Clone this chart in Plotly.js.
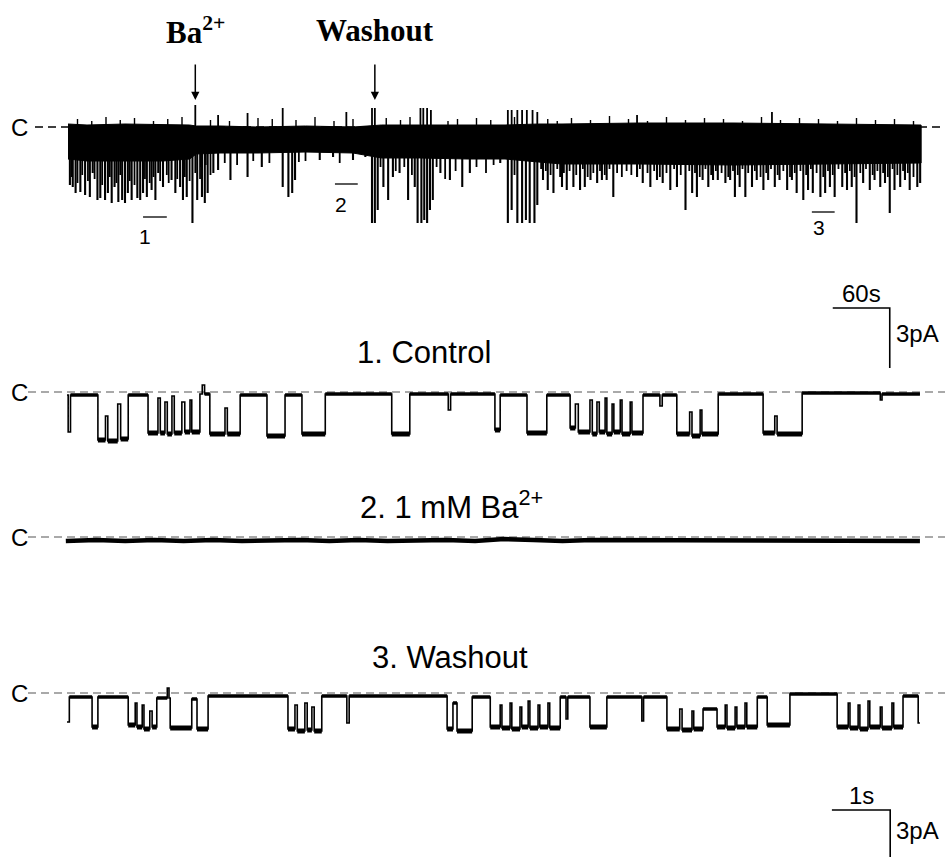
<!DOCTYPE html>
<html><head><meta charset="utf-8">
<script src="https://cdn.plot.ly/plotly-3.0.1.min.js"></script>
<style>html,body{margin:0;padding:0;background:#fff}#chart{width:947px;height:857px}</style>
</head><body><div id="chart"></div>
<script>
// ===== Overview recording (time s, current pA) =====
const bandT      = [0, 20, 60, 100, 128, 135, 160, 200, 250, 300, 318, 330, 370, 420, 460, 495, 520, 600, 700, 800, 898];
const bandTop    = [0.15, 0.1, 0.15, 0.1, 0.1, 0.05, 0.05, 0, 0.05, 0, 0.05, 0.1, 0.1, 0.1, 0.1, 0.15, 0.15, 0.2, 0.2, 0.15, 0.1];
const bandBottom = [-1.6, -1.7, -1.7, -1.7, -1.6, -1.35, -1.3, -1.3, -1.25, -1.3, -1.45, -1.55, -1.55, -1.6, -1.6, -1.75, -1.85, -1.85, -1.9, -1.85, -1.8];

// full-depth openings
const downSpikeT = [2,5,8,13,18,23,26,31,34,39,42,46,49,53,57,60,63,67,73,76,79,83,88,92,95,100,109,113,118,121,125,131,136,141,144,147,153,
  158,171,189,204,226,232,236,239,265,279,300,313,
  320,323,326,332,337,342,349,358,365,368,372,375,378,381,384,392,402,415,423,455,463,467,473,478,482,486,491,494,
  500,505,511,520,525,532,539,544,550,557,562,567,574,599,605,613,620,626,634,641,650,657,662,668,674,679,684,692,697,702,707,713,720,725,732,737,744,749,757,762,767,774,779,784,792,797,802,807,815,820,825,830,837,844,849,855,860,865,870,876,881,886,894,897];
const downSpikeI = [-2.9,-3.0,-3.3,-3.25,-3.4,-3.5,-2.3,-3.65,-3.55,-3.65,-3.3,-3.8,-3.0,-3.75,-3.65,-3.8,-3.3,-3.65,-3.55,-3.65,-3.3,-3.5,-3.15,-3.65,-2.3,-3.0,-2.65,-3.3,-3.0,-3.65,-3.5,-4.8,-3.65,-3.5,-3.8,-3.3,-2.3,
  -2.15,-2.65,-2.5,-2.0,-3.0,-3.5,-3.3,-2.65,-1.65,-1.5,-1.65,-1.5,
  -4.8,-4.8,-4.15,-3.0,-3.65,-2.5,-2.3,-3.65,-3.0,-4.8,-4.8,-4.65,-4.8,-4.15,-3.65,-2.3,-2.65,-3.0,-2.3,-1.8,-4.8,-4.15,-4.8,-4.8,-4.65,-4.8,-4.8,-3.9,
  -2.65,-3.15,-3.3,-3.0,-3.15,-3.0,-3.15,-3.0,-2.65,-2.8,-2.65,-2.65,-3.5,-2.5,-2.8,-3.0,-2.65,-2.8,-3.15,-3.0,-4.15,-3.3,-3.5,-2.65,-3.0,-2.65,-2.65,-2.8,-2.65,-3.5,-3.0,-3.5,-3.0,-2.65,-3.15,-2.65,-3.0,-2.65,-3.15,-2.65,-3.3,-3.65,-3.15,-3.3,-3.5,-3.3,-3.0,-3.5,-3.0,-3.15,-3.0,-4.8,-2.8,-3.15,-2.65,-3.0,-2.8,-4.3,-3.15,-3.0,-2.65,-3.15,-3.0,-2.8];
// shorter openings / partial events
const shortSpikeT = [4,10,15,21,28,36,44,51,55,65,70,81,86,90,97,104,106,115,123,128,134,139,150,
  140,145,165,178,195,212,243,250,286,
  329,345,354,362,388,397,408,430,440,448,470,498,
  503,508,515,518,522,528,535,542,547,553,560,565,570,578,583,588,593,602,610,617,623,630,638,645,654,660,665,671,677,682,688,695,700,705,710,716,723,729,735,740,747,753,760,765,771,777,782,788,795,800,805,811,818,823,828,834,840,847,852,858,863,868,873,879,884,890];
const shortSpikeI = [-2.5,-2.8,-2.4,-2.7,-2.6,-2.9,-2.5,-2.8,-2.4,-2.7,-2.9,-2.6,-2.8,-2.5,-2.7,-2.4,-2.8,-2.6,-2.5,-2.7,-2.3,-2.6,-2.4,
  -2.0,-1.9,-1.8,-1.9,-1.7,-1.8,-1.75,-1.7,-1.8,
  -2.0,-2.2,-2.0,-2.4,-2.0,-2.6,-2.2,-2.0,-2.3,-1.9,-2.4,-2.1,
  -2.2,-2.4,-2.1,-2.5,-2.3,-2.2,-2.4,-2.1,-2.5,-2.3,-2.2,-2.4,-2.1,-2.3,-2.5,-2.2,-2.4,-2.1,-2.3,-2.2,-2.5,-2.3,-2.1,-2.4,-2.2,-2.3,-2.5,-2.1,-2.4,-2.2,-2.3,-2.5,-2.2,-2.4,-2.1,-2.3,-2.2,-2.5,-2.3,-2.1,-2.4,-2.2,-2.5,-2.3,-2.2,-2.4,-2.1,-2.3,-2.5,-2.2,-2.4,-2.1,-2.3,-2.2,-2.5,-2.3,-2.1,-2.4,-2.2,-2.3,-2.5,-2.1,-2.4,-2.2,-2.3,-2.5,-2.2];

const upSpikeT = [134, 158, 189, 226, 293, 320, 323, 371, 374, 378, 382, 463, 467, 473, 478, 483, 489, 494, 599, 741];
const upSpikeI = [1.1, 0.6, 0.7, 0.95, 0.75, 0.95, 0.95, 0.95, 0.95, 0.95, 0.85, 0.85, 0.85, 0.85, 0.85, 0.85, 0.85, 0.75, 0.6, 0.75];
const noiseUpT = [10,25,40,55,70,90,105,120,150,170,200,215,240,260,280,300,335,350,360,400,410,430,445,470,505,515,530,550,570,590,610,630,650,670,690,710,730,750,770,790,810,830,850,870,890];
const noiseUpI = [0.4,0.3,0.5,0.35,0.45,0.3,0.4,0.5,0.35,0.3,0.45,0.4,0.35,0.5,0.3,0.4,0.45,0.35,0.5,0.3,0.4,0.45,0.35,0.5,0.4,0.3,0.45,0.35,0.55,0.4,0.3,0.5,0.35,0.45,0.4,0.3,0.5,0.35,0.45,0.4,0.3,0.45,0.35,0.4,0.3];

// marked segments shown expanded below
const segLabel  = ['1', '2', '3'];
const segStart  = [79, 281, 783];
const segEnd    = [104, 305, 807];
const segBarI   = [-4.5, -2.85, -4.25];
const segTextT  = [81, 287, 790];
const segTextI  = [-5.45, -3.85, -5.0];

const stimT     = [134, 323];
const stimLabel = ['<b>Ba<sup>2+</sup></b>', '<b>Washout</b>'];

// ===== Expanded segments (time s, current pA) =====
const ctrlT = [0,0.02,0.06,0.53,0.66,0.70,0.87,0.92,1.05,1.39,1.56,1.60,1.68,1.72,1.80,1.84,1.97,2.02,2.11,2.14,2.28,2.32,2.36,2.45,2.71,2.75,2.97,3.43,3.74,4.03,4.43,5.57,5.88,6.54,6.58,7.34,7.43,7.89,8.23,8.63,8.72,8.77,8.97,9.01,9.09,9.13,9.23,9.26,9.35,9.38,9.49,9.52,9.66,9.69,9.88,10.17,10.21,10.46,10.68,10.72,10.86,10.89,11.17,11.94,12.14,12.18,12.61,13.95,13.98,14.63];
const ctrlI = [-0.15,-2.0,-0.15,-2.4,-1.2,-2.45,-0.6,-2.35,-0.15,-2.05,-0.3,-2.05,-0.5,-2.1,-0.2,-2.05,-0.5,-2.0,-0.4,-2.0,-0.1,0.35,-0.1,-2.1,-0.8,-2.1,-0.15,-2.2,-0.15,-2.1,-0.1,-2.1,-0.1,-0.9,-0.1,-1.9,-0.15,-2.05,-0.15,-1.8,-0.6,-2.0,-0.4,-2.1,-0.5,-2.0,-0.3,-2.1,-0.6,-2.0,-0.4,-2.1,-0.5,-2.05,-0.15,-0.7,-0.15,-2.1,-1.0,-2.2,-0.9,-2.1,-0.1,-2.05,-1.2,-2.1,-0.05,-0.4,-0.1,-0.1];

const baT = [-0.02,0.5,1.0,1.5,2.0,2.5,3.0,3.5,4.0,4.5,5.0,5.5,6.0,6.5,7.0,7.5,8.0,8.5,9.0,9.5,10.0,10.5,11.0,11.5,12.0,12.5,13.0,13.5,14.0,14.63];
const baI = [-0.2,-0.15,-0.2,-0.15,-0.2,-0.15,-0.2,-0.15,-0.15,-0.2,-0.15,-0.2,-0.15,-0.15,-0.2,-0.1,-0.15,-0.2,-0.15,-0.15,-0.2,-0.15,-0.15,-0.2,-0.15,-0.15,-0.2,-0.15,-0.2,-0.2];

const washT = [0,0.04,0.43,0.53,1.05,1.17,1.20,1.29,1.32,1.42,1.46,1.54,1.72,1.75,1.77,2.14,2.23,2.42,3.79,3.91,3.95,4.08,4.12,4.20,4.24,4.37,4.80,4.84,6.52,6.62,6.69,6.95,7.26,7.43,7.46,7.60,7.63,7.77,7.80,7.91,7.94,8.08,8.11,8.25,8.28,8.46,8.56,8.59,8.97,9.26,9.86,9.89,10.29,10.51,10.55,10.72,10.75,10.91,11.15,11.29,11.32,11.46,11.49,11.63,11.66,11.84,12.01,12.40,13.21,13.40,13.43,13.57,13.60,13.74,13.77,13.95,13.98,14.15,14.18,14.34,14.60,14.63];
const washI = [-1.45,-0.2,-1.7,-0.2,-1.6,-0.5,-1.7,-0.6,-1.8,-0.9,-1.7,-0.25,0.25,-0.25,-1.75,-0.3,-1.8,-0.15,-1.8,-0.6,-1.9,-0.5,-1.85,-0.7,-1.9,-0.15,-1.5,-0.15,-1.8,-0.5,-1.9,-0.2,-1.7,-0.6,-1.75,-0.5,-1.8,-0.7,-1.7,-0.4,-1.75,-0.6,-1.7,-0.5,-1.75,-0.2,-1.3,-0.2,-1.7,-0.2,-1.4,-0.2,-1.8,-0.8,-1.85,-0.9,-1.8,-0.8,-1.7,-0.6,-1.75,-0.7,-1.7,-0.5,-1.7,-0.2,-1.6,-0.05,-1.7,-0.5,-1.75,-0.6,-1.8,-0.4,-1.7,-0.7,-1.75,-0.5,-1.7,-0.15,-1.5,-1.5];

const panelTitles = ['1. Control', '2. 1 mM Ba<sup>2+</sup>', '3. Washout'];

// ===== Figure geometry =====
const W = 947, H = 857;
const pxPerSecTop = 0.95, pxPerPA = 20, topX0 = 68, topBase = 127;
const pxPerSecLow = 58.3, lowX0 = 67;
const lowBase = [392, 537, 693];

function spikes(T, I) {
  const x = [], y = [];
  T.forEach((t, i) => { x.push(t, t, null); y.push(0, I[i], null); });
  return {x, y};
}
// longer dwells of a step record drawn thicker (noise band), split into closed / open levels
function dwells(T, I, open) {
  const x = [], y = [];
  for (let i = 0; i < T.length - 1; i++) {
    const isOpen = I[i] < -1;
    if (isOpen === open && T[i+1] - T[i] > 0.06) { x.push(T[i], T[i+1], null); y.push(I[i], I[i], null); }
  }
  return {x, y};
}
const ds = spikes(downSpikeT, downSpikeI);
const ss = spikes(shortSpikeT, shortSpikeI);
const us = spikes(upSpikeT, upSpikeI);
const ns = spikes(noiseUpT, noiseUpI);

const traces = [];
const line = (w) => ({color:'#000', width:w});
traces.push({x: bandT.concat(bandT.slice().reverse()), y: bandTop.concat(bandBottom.slice().reverse()),
  xaxis:'x', yaxis:'y', mode:'lines', fill:'toself', fillcolor:'#000', line:line(1), hoverinfo:'skip'});
traces.push({x: ss.x, y: ss.y, xaxis:'x', yaxis:'y', mode:'lines', line:line(1.8), hoverinfo:'skip'});
traces.push({x: ds.x, y: ds.y, xaxis:'x', yaxis:'y', mode:'lines', line:line(2.1), hoverinfo:'skip'});
traces.push({x: us.x, y: us.y, xaxis:'x', yaxis:'y', mode:'lines', line:line(1.8), hoverinfo:'skip'});
traces.push({x: ns.x, y: ns.y, xaxis:'x', yaxis:'y', mode:'lines', line:line(1.4), hoverinfo:'skip'});
segLabel.forEach((s, i) => {
  traces.push({x:[segStart[i], segEnd[i]], y:[segBarI[i], segBarI[i]], xaxis:'x', yaxis:'y', mode:'lines', line:line(1.3), hoverinfo:'skip'});
});
// top scale bar: 60 s, 3 pA
traces.push({x:[805, 865, 865], y:[-9.05, -9.05, -12.05], xaxis:'x', yaxis:'y', mode:'lines', line:line(1.6), hoverinfo:'skip'});

[[ctrlT, ctrlI, 'y2'], [washT, washI, 'y4']].forEach(([T, I, ya]) => {
  traces.push({x: T, y: I, xaxis:'x2', yaxis:ya, mode:'lines', line:{color:'#000', width:1.6, shape:'hv'}, hoverinfo:'skip'});
  const c = dwells(T, I, false), o = dwells(T, I, true);
  traces.push({x: c.x, y: c.y, xaxis:'x2', yaxis:ya, mode:'lines', line:line(3.5), hoverinfo:'skip'});
  traces.push({x: o.x, y: o.y, xaxis:'x2', yaxis:ya, mode:'lines', line:line(5), hoverinfo:'skip'});
});
traces.push({x: baT, y: baI, xaxis:'x2', yaxis:'y3', mode:'lines', line:line(4.5), hoverinfo:'skip'});
// bottom scale bar: 1 s, 3 pA
traces.push({x:[13.12, 14.12, 14.12], y:[-5.85, -5.85, -8.85], xaxis:'x2', yaxis:'y4', mode:'lines', line:line(1.6), hoverinfo:'skip'});

const ax = (range, extra) => Object.assign({range, visible:false, fixedrange:true, domain:[0,1]}, extra||{});
const layout = {
  width: W, height: H, margin:{l:0,r:0,t:0,b:0}, showlegend:false,
  paper_bgcolor:'#fff', plot_bgcolor:'rgba(0,0,0,0)',
  xaxis: ax([-topX0/pxPerSecTop, (W-topX0)/pxPerSecTop], {anchor:'y'}),
  yaxis: ax([-(H-topBase)/pxPerPA, topBase/pxPerPA], {anchor:'x'}),
  xaxis2: ax([-lowX0/pxPerSecLow, (W-lowX0)/pxPerSecLow], {anchor:'y2'}),
  yaxis2: ax([-(H-lowBase[0])/pxPerPA, lowBase[0]/pxPerPA], {anchor:'x2'}),
  yaxis3: ax([-(H-lowBase[1])/pxPerPA, lowBase[1]/pxPerPA], {anchor:'x2', overlaying:'y2'}),
  yaxis4: ax([-(H-lowBase[2])/pxPerPA, lowBase[2]/pxPerPA], {anchor:'x2', overlaying:'y2'}),
  shapes: [], annotations: []
};
layout.shapes.push({type:'line', xref:'paper', yref:'y', x0:35/W, x1:945/W, y0:0, y1:0, layer:'below', line:{color:'#000', width:1.4, dash:'8px,5px'}});
['y2','y3','y4'].forEach(yr => layout.shapes.push({type:'line', xref:'paper', yref:yr, x0:28/W, x1:945/W, y0:0, y1:0, layer:'below', line:{color:'#555', width:1.2, dash:'8px,5px'}}));

const sans = 'Liberation Sans, Arial, sans-serif';
['y','y2','y3','y4'].forEach(yr => layout.annotations.push({xref:'paper', yref:yr, x:19/W, y:0, text:'C', showarrow:false, xanchor:'center', yanchor:'middle', font:{family:sans, size:24, color:'#000'}}));
stimT.forEach((t, i) => {
  layout.annotations.push({xref:'x', yref:'y', x:t, y:1.35, ax:0, ay:-37, text:'', showarrow:true, arrowhead:2, arrowsize:1.1, arrowwidth:1.5, arrowcolor:'#000'});
  layout.annotations.push({xref:'x', yref:'paper', x:t, y:1-31/H, text:stimLabel[i], showarrow:false, xanchor:'center', yanchor:'middle', font:{family:'Liberation Serif, Times New Roman, serif', size:31, color:'#000'}});
});
segLabel.forEach((s, i) => layout.annotations.push({xref:'x', yref:'y', x:segTextT[i], y:segTextI[i], text:s, showarrow:false, xanchor:'center', yanchor:'middle', font:{family:sans, size:21, color:'#000'}}));
layout.annotations.push({xref:'x', yref:'y', x:835, y:-8.3, text:'60s', showarrow:false, xanchor:'center', yanchor:'middle', font:{family:sans, size:24, color:'#000'}});
layout.annotations.push({xref:'x', yref:'y', x:869, y:-10.3, text:'3pA', showarrow:false, xanchor:'left', yanchor:'middle', font:{family:sans, size:24, color:'#000'}});
layout.annotations.push({xref:'x2', yref:'y4', x:13.62, y:-5.1, text:'1s', showarrow:false, xanchor:'center', yanchor:'middle', font:{family:sans, size:24, color:'#000'}});
layout.annotations.push({xref:'x2', yref:'y4', x:14.18, y:-6.85, text:'3pA', showarrow:false, xanchor:'left', yanchor:'middle', font:{family:sans, size:24, color:'#000'}});
const titleX = [355, 358, 370], titleY = [352, 505, 657];
panelTitles.forEach((s, i) => layout.annotations.push({xref:'paper', yref:'paper', x:titleX[i]/W, y:1-titleY[i]/H, text:s, showarrow:false, xanchor:'left', yanchor:'middle', font:{family:sans, size:31, color:'#000'}}));

Plotly.newPlot('chart', traces, layout, {staticPlot:true, displayModeBar:false});
</script></body></html>
